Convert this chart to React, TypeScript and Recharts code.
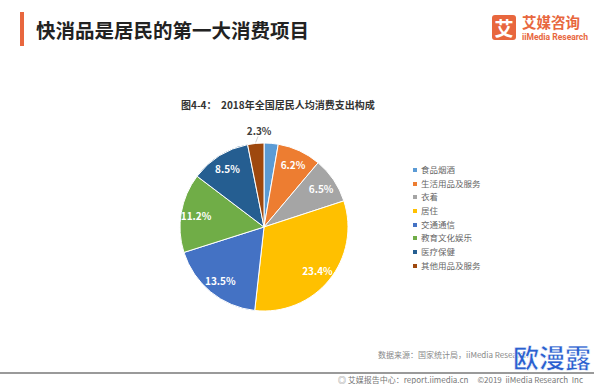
import { PieChart, Pie, Cell } from 'recharts';

const categories = ['食品烟酒', '生活用品及服务', '衣着', '居住', '交通通信', '教育文化娱乐', '医疗保健', '其他用品及服务'];
const shares = [2.0, 6.2, 6.5, 23.4, 13.5, 11.2, 8.5, 2.3];
const shareLabels = ['', '6.2%', '6.5%', '23.4%', '13.5%', '11.2%', '8.5%', '2.3%'];
const colors = ['#5B9BD5', '#ED7D31', '#A5A5A5', '#FFC000', '#4472C4', '#70AD47', '#255E91', '#9E480E'];

const data = categories.map((name, i) => ({ name, value: shares[i] }));

const CJK = '"Noto Sans CJK SC", "Noto Sans", sans-serif';
const RADIAN = Math.PI / 180;

// labels sit inside the slices, the last (tiny) one goes outside with a short line
const renderLabel = (props: any) => {
  const { cx, cy, midAngle, outerRadius, index } = props;
  const text = shareLabels[index];
  if (!text) return null;
  const cos = Math.cos(-midAngle * RADIAN);
  const sin = Math.sin(-midAngle * RADIAN);
  if (index === categories.length - 1) {
    const x1 = cx + (outerRadius + 1) * cos;
    const y1 = cy + (outerRadius + 1) * sin;
    const x2 = cx + (outerRadius + 7) * cos + 3;
    const y2 = cy + (outerRadius + 7) * sin;
    return (
      <g>
        <line x1={x1} y1={y1} x2={x2} y2={y2} stroke="#bfbfbf" strokeWidth={0.8} />
        <text x={x2 + 1} y={y2 - 6} textAnchor="middle" dominantBaseline="central"
          fill="#404040" fontSize={10} fontWeight="bold" fontFamily={CJK}>
          {text}
        </text>
      </g>
    );
  }
  const r = outerRadius * 0.82;
  return (
    <text x={cx + r * cos} y={cy + r * sin} textAnchor="middle" dominantBaseline="central"
      fill="#fff" fontSize={10} fontWeight="bold" fontFamily={CJK}>
      {text}
    </text>
  );
};

export default function App() {
  return (
    <div style={{ position: 'relative', width: 594, height: 384, background: '#fff', overflow: 'hidden' }}>
      <style>{'body{margin:0}'}</style>

      {/* header */}
      <div style={{ position: 'absolute', left: 20, top: 12, width: 4, height: 34, background: '#E8673E' }} />
      <div style={{ position: 'absolute', left: 36, top: 20, fontSize: 19.5, lineHeight: '20px', fontWeight: 'bold', color: '#222', fontFamily: CJK }}>
        快消品是居民的第一大消费项目
      </div>
      <div style={{ position: 'absolute', left: 492, top: 15, width: 24, height: 25, background: '#E8673E', borderRadius: 3, color: '#fff', fontSize: 19, lineHeight: '25px', textAlign: 'center', fontWeight: 'bold', fontFamily: CJK }}>
        艾
      </div>
      <div style={{ position: 'absolute', left: 522, top: 14, fontSize: 14.5, lineHeight: '15px', fontWeight: 'bold', color: '#E8673E', fontFamily: CJK }}>
        艾媒咨询
      </div>
      <div style={{ position: 'absolute', left: 522, top: 33, fontSize: 8.5, lineHeight: '9px', fontWeight: 'bold', color: '#E8673E', fontFamily: 'Roboto, sans-serif' }}>
        iiMedia Research
      </div>

      {/* chart title */}
      <div style={{ position: 'absolute', left: 181, top: 99, fontSize: 10, lineHeight: '12px', fontWeight: 'bold', color: '#333', fontFamily: CJK, whiteSpace: 'pre' }}>
        {'图4-4：  2018年全国居民人均消费支出构成'}
      </div>

      <div style={{ position: 'absolute', left: 0, top: 0 }}>
        <PieChart width={594} height={384} margin={{ top: 0, right: 0, bottom: 0, left: 0 }}>
          <Pie
            data={data}
            dataKey="value"
            nameKey="name"
            cx={264}
            cy={227}
            outerRadius={84}
            startAngle={90}
            endAngle={-270}
            stroke="#fff"
            strokeWidth={1}
            label={renderLabel}
            labelLine={false}
            isAnimationActive={false}
          >
            {data.map((d, i) => (
              <Cell key={d.name} fill={colors[i]} />
            ))}
          </Pie>
        </PieChart>
      </div>

      {/* legend */}
      <div style={{ position: 'absolute', left: 413, top: 163, fontFamily: CJK }}>
        {categories.map((name, i) => (
          <div key={name} style={{ display: 'flex', alignItems: 'center', height: 13.7 }}>
            <span style={{ width: 4, height: 4, background: colors[i], marginRight: 4 }} />
            <span style={{ fontSize: 8.5, color: '#666', lineHeight: '13.7px' }}>{name}</span>
          </div>
        ))}
      </div>

      {/* footer */}
      <div style={{ position: 'absolute', left: 378, top: 350, fontSize: 8, lineHeight: '10px', color: '#888', fontFamily: CJK }}>
        数据来源：国家统计局，iiMedia Research
      </div>
      <div style={{ position: 'absolute', left: 0, top: 372, width: 594, height: 1.5, background: '#9a9a9a' }} />
      <div style={{ position: 'absolute', left: 338, top: 375, fontSize: 8, lineHeight: '9px', color: '#777', fontFamily: CJK, whiteSpace: 'pre' }}>
        {'◎ 艾媒报告中心：report.iimedia.cn     ©2019  iiMedia Research  Inc'}
      </div>
      <div style={{ position: 'absolute', left: 513, top: 340, fontSize: 26, lineHeight: '34px', fontWeight: 'bold', color: '#2B5FCF', fontFamily: CJK, WebkitTextStroke: '0.6px #fff' }}>
        欧漫露
      </div>
    </div>
  );
}
